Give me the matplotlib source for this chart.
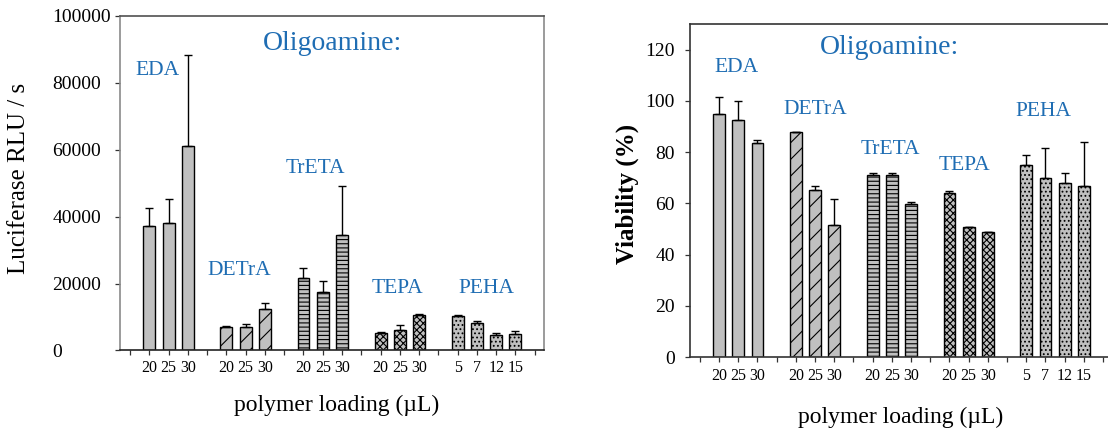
import numpy as np
import matplotlib
matplotlib.use("Agg")
import matplotlib.pyplot as plt

plt.rcParams['font.family'] = ['Liberation Serif', 'DejaVu Serif']
plt.rcParams['hatch.linewidth'] = 0.8

# Oligoamine groups and their polymer loadings (µL)
groups = ["EDA", "DETrA", "TrETA", "TEPA", "PEHA"]
loadings = [["20", "25", "30"], ["20", "25", "30"], ["20", "25", "30"],
            ["20", "25", "30"], ["5", "7", "12", "15"]]

# Luciferase expression (RLU / s) and upper error
rlu_eda = [37300, 38100, 61100]
rlu_detra = [7000, 7000, 12400]
rlu_treta = [21800, 17600, 34400]
rlu_tepa = [5200, 6100, 10500]
rlu_peha = [10300, 8100, 4600, 4900]
rlu_err_eda = [5300, 7300, 27200]
rlu_err_detra = [400, 900, 1900]
rlu_err_treta = [3000, 3200, 14700]
rlu_err_tepa = [400, 1400, 400]
rlu_err_peha = [400, 800, 500, 1000]

# Cell viability (%) and upper error
via_eda = [94.9, 92.5, 83.5]
via_detra = [87.8, 65.4, 51.6]
via_treta = [70.9, 70.9, 59.9]
via_tepa = [64.2, 50.8, 48.8]
via_peha = [75.0, 69.9, 68.0, 66.9]
via_err_eda = [6.7, 7.6, 1.3]
via_err_detra = [0.0, 1.5, 10.1]
via_err_treta = [1.1, 1.1, 0.8]
via_err_tepa = [0.7, 0.0, 0.0]
via_err_peha = [3.9, 11.9, 4.0, 16.9]

hatches = ["", "//", "----", "xxxxx", "...."]
bar_face = "#c0c0c0"
label_blue = "#1f6db3"

rlu_vals = [rlu_eda, rlu_detra, rlu_treta, rlu_tepa, rlu_peha]
rlu_errs = [rlu_err_eda, rlu_err_detra, rlu_err_treta, rlu_err_tepa, rlu_err_peha]
via_vals = [via_eda, via_detra, via_treta, via_tepa, via_peha]
via_errs = [via_err_eda, via_err_detra, via_err_treta, via_err_tepa, via_err_peha]

# category slots: one empty slot before each group and one at the end
positions = []
slot = 0
for g in loadings:
    slot += 1
    positions.append(list(range(slot, slot + len(g))))
    slot += len(g)
n_slots = slot + 1


def draw_panel(ax, vals, errs, ylim, yticks):
    for pos, v, e, h in zip(positions, vals, errs, hatches):
        ax.bar(pos, v, width=0.62, color=bar_face, edgecolor="black",
               linewidth=1.0, hatch=h, zorder=2)
        ax.errorbar(pos, v, yerr=[np.zeros(len(e)), e], fmt="none",
                    ecolor="black", elinewidth=1.0, capsize=3.2,
                    capthick=1.0, zorder=3)
    ax.set_xlim(-0.5, n_slots - 0.5)
    ax.set_ylim(*ylim)
    ax.set_yticks(yticks)
    ax.set_xticks(range(n_slots))
    labels = [""] * n_slots
    for pos, g in zip(positions, loadings):
        for p, lab in zip(pos, g):
            labels[p] = lab
    ax.set_xticklabels(labels, fontsize=11.5)
    ax.tick_params(axis="both", direction="out", length=3.6, width=0.9,
                   colors="#333333")
    ax.tick_params(axis="x", labelcolor="black")
    ax.tick_params(axis="y", labelcolor="black", labelsize=14)


fig = plt.figure(figsize=(11.08, 4.32), dpi=100)

# --- luciferase panel ---
ax1 = fig.add_axes([0.1087, 0.1887, 0.3826, 0.7743])
draw_panel(ax1, rlu_vals, rlu_errs, (0, 100000),
           [0, 20000, 40000, 60000, 80000, 100000])
ax1.set_yticklabels(["0", "20000", "40000", "60000", "80000", "100000"])
ax1.tick_params(axis="y", pad=45.5)
for t in ax1.get_yticklabels():
    t.set_horizontalalignment("left")
ax1.tick_params(axis="x", pad=3.5)
ax1.spines["left"].set_color("#8a8a8a")
ax1.spines["right"].set_color("#8a8a8a")
ax1.spines["top"].set_color("#505050")
ax1.spines["bottom"].set_color("#222222")
for s in ax1.spines.values():
    s.set_linewidth(1.2)
ax1.set_ylabel("Luciferase RLU / s", fontsize=18)
ax1.yaxis.set_label_coords(-0.239, 0.513)
ax1.yaxis.label.set_va("center")
ax1.set_xlabel("polymer loading (µL)", fontsize=17)
ax1.xaxis.set_label_coords(0.511, -0.163)
ax1.xaxis.label.set_va("center")

ax1.text(10.5, 91900, "Oligoamine:", fontsize=20, color=label_blue,
         ha="center", va="center")
rlu_label_pos = [(1.4, 83800), (5.66, 23800), (9.6, 54400),
                 (13.9, 18400), (18.5, 18400)]
for g, (x, y) in zip(groups, rlu_label_pos):
    ax1.text(x, y, g, fontsize=15.5, color=label_blue, ha="center", va="center")

# --- viability panel ---
ax2 = fig.add_axes([0.623, 0.173, 0.3812, 0.7715])
draw_panel(ax2, via_vals, via_errs, (0, 130), [0, 20, 40, 60, 80, 100, 120])
ax2.tick_params(axis="y", pad=7.4)
ax2.tick_params(axis="x", pad=4.0)
for s in ax2.spines.values():
    s.set_color("#333333")
    s.set_linewidth(1.2)
ax2.set_ylabel("Viability (%)", fontsize=18, fontweight="bold")
ax2.yaxis.set_label_coords(-0.149, 0.49)
ax2.yaxis.label.set_va("center")
ax2.set_xlabel("polymer loading (µL)", fontsize=17)
ax2.xaxis.set_label_coords(0.499, -0.179)
ax2.xaxis.label.set_va("center")

ax2.text(9.87, 120.7, "Oligoamine:", fontsize=20, color=label_blue,
         ha="center", va="center")
via_label_pos = [(1.92, 112.9), (5.99, 96.7), (9.9, 81.1),
                 (13.8, 74.7), (17.9, 95.9)]
for g, (x, y) in zip(groups, via_label_pos):
    ax2.text(x, y, g, fontsize=15.5, color=label_blue, ha="center", va="center")

fig.savefig("out.png", dpi=100)
